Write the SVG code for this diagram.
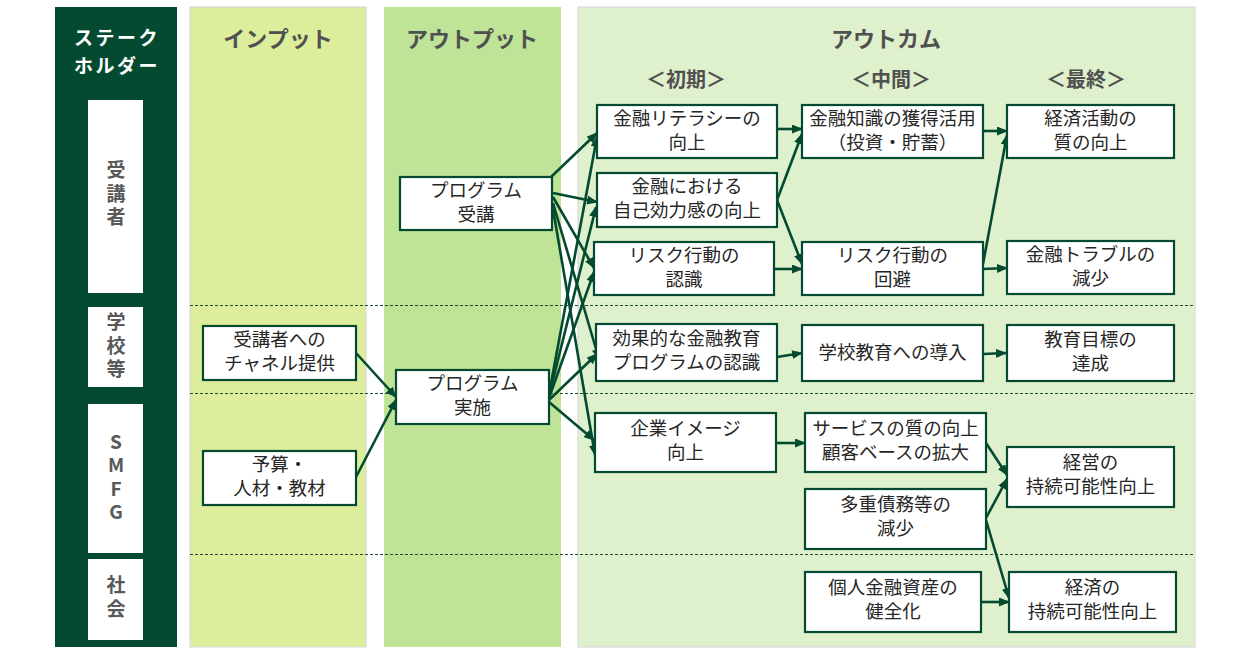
<svg xmlns="http://www.w3.org/2000/svg" width="1250" height="648" viewBox="0 0 1250 648">
<style>
text{font-family:"Noto Sans CJK JP","Noto Sans",sans-serif;}
.col{stroke:#D9D9D9;stroke-width:1.2;}
.hd{font-size:22px;font-weight:bold;fill:#505050;text-anchor:middle;}
.sub{font-size:20px;font-weight:bold;fill:#505050;text-anchor:middle;}
.sk{font-size:19px;font-weight:bold;fill:#595959;text-anchor:middle;writing-mode:vertical-rl;text-orientation:upright;letter-spacing:4.5px;}
.skb{fill:#FFFFFF;}
.nb{fill:#FFFFFF;stroke:#034A30;stroke-width:2.2;}
.nt{font-size:18.5px;fill:#262626;text-anchor:middle;}
.dash{stroke:#1E4A38;stroke-width:1;stroke-dasharray:3 2;fill:none;}
.cn{stroke:#034A30;stroke-width:2.6;fill:none;marker-end:url(#ah);}
</style>
<defs>
<marker id="ah" markerUnits="userSpaceOnUse" markerWidth="11" markerHeight="9" refX="10" refY="4.5" orient="auto">
<path d="M0,0 L11,4.5 L0,9 z" fill="#034A30"/>
</marker>
</defs>
<rect width="1250" height="648" fill="#FFFFFF"/>

<g id="columns">
<rect x="55" y="7" width="122" height="640" fill="#034A30"/>
<rect class="col" x="190" y="7" width="176" height="640" fill="#DCEE9B"/>
<rect x="384" y="7" width="177" height="640" fill="#BFE397"/>
<rect class="col" x="578" y="7" width="617" height="640" fill="#DFF0CC"/>
<text font-size="19" font-weight="bold" fill="#FFFFFF" text-anchor="middle" letter-spacing="2.5"><tspan x="117" y="45">ステーク</tspan><tspan x="117" y="73">ホルダー</tspan></text>
<text class="hd" x="278" y="47">インプット</text>
<text class="hd" x="472" y="47">アウトプット</text>
<text class="hd" x="886" y="47">アウトカム</text>
<text class="sub" x="686" y="87">＜初期＞</text>
<text class="sub" x="891" y="87">＜中間＞</text>
<text class="sub" x="1086" y="87">＜最終＞</text>
</g>

<g id="dividers">
<line class="dash" x1="190" y1="305.5" x2="1195" y2="305.5"/>
<line class="dash" x1="190" y1="393.5" x2="1195" y2="393.5"/>
<line class="dash" x1="190" y1="554.5" x2="1195" y2="554.5"/>
</g>

<g id="sh-jukosha">
<rect class="skb" x="88" y="100" width="55" height="193"/>
<text class="sk" x="116" y="196">受講者</text>
</g>
<g id="sh-gakko">
<rect class="skb" x="88" y="307" width="55" height="80"/>
<text class="sk" x="116" y="348">学校等</text>
</g>
<g id="sh-smfg">
<rect class="skb" x="88" y="404" width="55" height="149"/>
<text class="sk" x="116" y="479">SMFG</text>
</g>
<g id="sh-shakai">
<rect class="skb" x="88" y="559" width="55" height="81"/>
<text class="sk" x="116" y="599">社会</text>
</g>

<g id="connectors">
<line class="cn" x1="356" y1="353" x2="396" y2="397"/>
<line class="cn" x1="356" y1="477" x2="396" y2="400"/>
<line class="cn" x1="551" y1="177" x2="597" y2="133"/>
<line class="cn" x1="553" y1="193" x2="597" y2="202"/>
<line class="cn" x1="553" y1="197" x2="594" y2="268"/>
<line class="cn" x1="553" y1="203" x2="599" y2="359"/>
<line class="cn" x1="553" y1="209" x2="595" y2="455"/>
<line class="cn" x1="549" y1="394" x2="597" y2="137"/>
<line class="cn" x1="549" y1="396" x2="596" y2="207"/>
<line class="cn" x1="549" y1="398" x2="594" y2="272"/>
<line class="cn" x1="549" y1="400" x2="597" y2="354"/>
<line class="cn" x1="549" y1="402" x2="594" y2="440"/>
<line class="cn" x1="777" y1="129" x2="802" y2="129"/>
<line class="cn" x1="777" y1="200" x2="802" y2="134"/>
<line class="cn" x1="777" y1="200" x2="802" y2="264"/>
<line class="cn" x1="775" y1="269" x2="802" y2="269"/>
<line class="cn" x1="777" y1="357" x2="802" y2="353"/>
<line class="cn" x1="776" y1="443" x2="805" y2="443"/>
<line class="cn" x1="983" y1="131" x2="1007" y2="131"/>
<line class="cn" x1="983" y1="264" x2="1007" y2="135"/>
<line class="cn" x1="983" y1="269" x2="1007" y2="268"/>
<line class="cn" x1="983" y1="354" x2="1006" y2="353"/>
<line class="cn" x1="986" y1="443" x2="1007" y2="475"/>
<line class="cn" x1="986" y1="518" x2="1007" y2="479"/>
<line class="cn" x1="986" y1="520" x2="1009" y2="598"/>
<line class="cn" x1="981" y1="602" x2="1009" y2="602"/>
</g>

<g id="in-channel">
<rect class="nb" x="203" y="326" width="153" height="54"/>
<text class="nt"><tspan x="279.5" y="346">受講者への</tspan><tspan x="279.5" y="370">チャネル提供</tspan></text>
</g>
<g id="in-budget">
<rect class="nb" x="203" y="451" width="153" height="54"/>
<text class="nt"><tspan x="279.5" y="471">予算・</tspan><tspan x="279.5" y="495">人材・教材</tspan></text>
</g>

<g id="out-juko">
<rect class="nb" x="400" y="177" width="152" height="53"/>
<text class="nt"><tspan x="476" y="197">プログラム</tspan><tspan x="476" y="221">受講</tspan></text>
</g>
<g id="out-jisshi">
<rect class="nb" x="396" y="370" width="153" height="54"/>
<text class="nt"><tspan x="472.5" y="390">プログラム</tspan><tspan x="472.5" y="414">実施</tspan></text>
</g>

<g id="o1-literacy">
<rect class="nb" x="597" y="105" width="180" height="53"/>
<text class="nt"><tspan x="687" y="125">金融リテラシーの</tspan><tspan x="687" y="149">向上</tspan></text>
</g>
<g id="o1-efficacy">
<rect class="nb" x="597" y="173" width="180" height="54"/>
<text class="nt"><tspan x="687" y="193">金融における</tspan><tspan x="687" y="217">自己効力感の向上</tspan></text>
</g>
<g id="o1-risk">
<rect class="nb" x="594" y="242" width="180" height="53"/>
<text class="nt"><tspan x="684" y="262">リスク行動の</tspan><tspan x="684" y="286">認識</tspan></text>
</g>
<g id="o1-program">
<rect class="nb" x="596" y="324" width="181" height="57"/>
<text class="nt"><tspan x="686.5" y="345">効果的な金融教育</tspan><tspan x="686.5" y="369">プログラムの認識</tspan></text>
</g>
<g id="o1-image">
<rect class="nb" x="595" y="413" width="181" height="59"/>
<text class="nt"><tspan x="685.5" y="435">企業イメージ</tspan><tspan x="685.5" y="459">向上</tspan></text>
</g>

<g id="o2-knowledge">
<rect class="nb" x="802" y="105" width="181" height="53"/>
<text class="nt"><tspan x="892.5" y="125">金融知識の獲得活用</tspan><tspan x="892.5" y="149">（投資・貯蓄）</tspan></text>
</g>
<g id="o2-risk">
<rect class="nb" x="802" y="242" width="181" height="53"/>
<text class="nt"><tspan x="892.5" y="262">リスク行動の</tspan><tspan x="892.5" y="286">回避</tspan></text>
</g>
<g id="o2-school">
<rect class="nb" x="802" y="325" width="181" height="56"/>
<text class="nt" x="892.5" y="359">学校教育への導入</text>
</g>
<g id="o2-service">
<rect class="nb" x="805" y="413" width="181" height="59"/>
<text class="nt"><tspan x="895.5" y="435">サービスの質の向上</tspan><tspan x="895.5" y="459">顧客ベースの拡大</tspan></text>
</g>
<g id="o2-debt">
<rect class="nb" x="805" y="489" width="181" height="60"/>
<text class="nt"><tspan x="895.5" y="511">多重債務等の</tspan><tspan x="895.5" y="535">減少</tspan></text>
</g>
<g id="o2-assets">
<rect class="nb" x="805" y="572" width="176" height="60"/>
<text class="nt"><tspan x="893" y="594">個人金融資産の</tspan><tspan x="893" y="618">健全化</tspan></text>
</g>

<g id="o3-economy">
<rect class="nb" x="1007" y="105" width="167" height="53"/>
<text class="nt"><tspan x="1090.5" y="125">経済活動の</tspan><tspan x="1090.5" y="149">質の向上</tspan></text>
</g>
<g id="o3-trouble">
<rect class="nb" x="1007" y="241" width="167" height="53"/>
<text class="nt"><tspan x="1090.5" y="261">金融トラブルの</tspan><tspan x="1090.5" y="285">減少</tspan></text>
</g>
<g id="o3-education">
<rect class="nb" x="1007" y="325" width="167" height="56"/>
<text class="nt"><tspan x="1090.5" y="346">教育目標の</tspan><tspan x="1090.5" y="370">達成</tspan></text>
</g>
<g id="o3-management">
<rect class="nb" x="1007" y="447" width="167" height="60"/>
<text class="nt"><tspan x="1090.5" y="469">経営の</tspan><tspan x="1090.5" y="493">持続可能性向上</tspan></text>
</g>
<g id="o3-society">
<rect class="nb" x="1009" y="572" width="167" height="60"/>
<text class="nt"><tspan x="1092.5" y="594">経済の</tspan><tspan x="1092.5" y="618">持続可能性向上</tspan></text>
</g>
</svg>
